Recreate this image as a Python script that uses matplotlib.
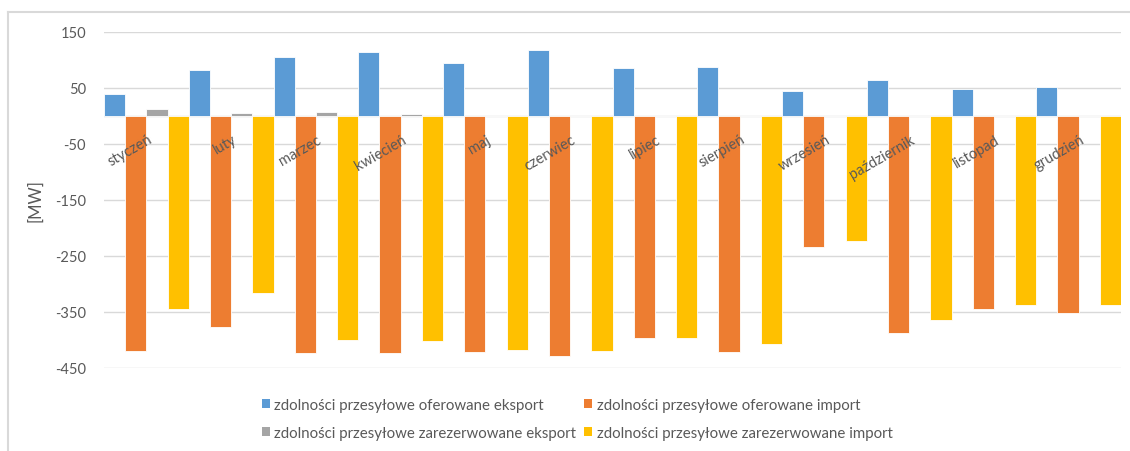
import matplotlib
matplotlib.use("Agg")
import matplotlib.pyplot as plt
import matplotlib.transforms as mtransforms
from matplotlib.lines import Line2D
from matplotlib.patches import Patch
import numpy as np

plt.rcParams['font.family'] = ['Lato', 'DejaVu Sans']

months = ["styczeń", "luty", "marzec", "kwiecień", "maj", "czerwiec",
          "lipiec", "sierpień", "wrzesień", "październik", "listopad", "grudzień"]

export_offered = [40, 83, 106, 114, 95, 117, 86, 88, 45, 65, 48, 52]
import_offered = [-420, -376, -423, -423, -421, -428, -396, -421, -234, -388, -345, -351]
export_reserved = [13, 5, 7, 4, 0, 0, 0, 0, 0, 0, 0, 0]
import_reserved = [-344, -316, -400, -402, -418, -419, -396, -408, -224, -365, -337, -337]

series_labels = [
    "zdolności przesyłowe oferowane eksport",
    "zdolności przesyłowe oferowane import",
    "zdolności przesyłowe zarezerwowane eksport",
    "zdolności przesyłowe zarezerwowane import",
]
colors = ["#5B9BD5", "#ED7D31", "#A5A5A5", "#FFC000"]

yticks = [150, 50, -50, -150, -250, -350, -450]

txt = "#595959"
grid = "#D9D9D9"

fig = plt.figure(figsize=(11.3, 4.52), dpi=100)

# chart-area frame: top and left edges only
fig.add_artist(Line2D([8 / 1130, 1.0], [1 - 13 / 452, 1 - 13 / 452],
                      transform=fig.transFigure, color=grid, linewidth=1.5))
fig.add_artist(Line2D([8 / 1130, 8 / 1130], [0.0, 1 - 13 / 452],
                      transform=fig.transFigure, color=grid, linewidth=1.5))

ax = fig.add_axes([104 / 1130, 1 - 369 / 452, 1017 / 1130, 336 / 452])

x = np.arange(len(months))
w = 0.25
data = [export_offered, import_offered, export_reserved, import_reserved]
for k, (vals, col) in enumerate(zip(data, colors)):
    ax.bar(x - 0.375 + k * w, vals, width=w, color=col,
           edgecolor="white", linewidth=0.6, zorder=3)

ax.set_xlim(-0.5, len(months) - 0.5)
ax.set_ylim(-450, 150)
ax.set_yticks(yticks)
ax.set_yticklabels([str(v) for v in yticks], fontsize=10.5, color=txt)
ax.tick_params(axis="y", length=0, pad=13)
ax.set_xticks([])
ax.yaxis.grid(True, color=grid, linewidth=1.0, zorder=0)
ax.axhline(0, color=grid, linewidth=1.0, zorder=1)
for s in ax.spines.values():
    s.set_visible(False)

ax.set_ylabel("[MW]", fontsize=12, color=txt)
ax.yaxis.set_label_coords(-61 / 1017, 0.5)

offset = mtransforms.ScaledTranslation(1 / 100, -16 / 100, fig.dpi_scale_trans)
for i, m in enumerate(months):
    ax.text(i, 0, m, rotation=30, rotation_mode="anchor", ha="right", va="top",
            fontsize=10.5, color=txt, transform=ax.transData + offset, zorder=5)

handles = [Patch(facecolor=c, edgecolor="none") for c in colors]
order = [0, 2, 1, 3]
fig.legend([handles[i] for i in order], [series_labels[i] for i in order],
           ncol=2, loc="center", bbox_to_anchor=(577 / 1130, 1 - 420 / 452),
           frameon=False, fontsize=10.8, handlelength=0.55, handleheight=0.55,
           handletextpad=0.3, columnspacing=0.5, labelspacing=0.95,
           labelcolor=txt)

fig.savefig("out.png", dpi=100)
